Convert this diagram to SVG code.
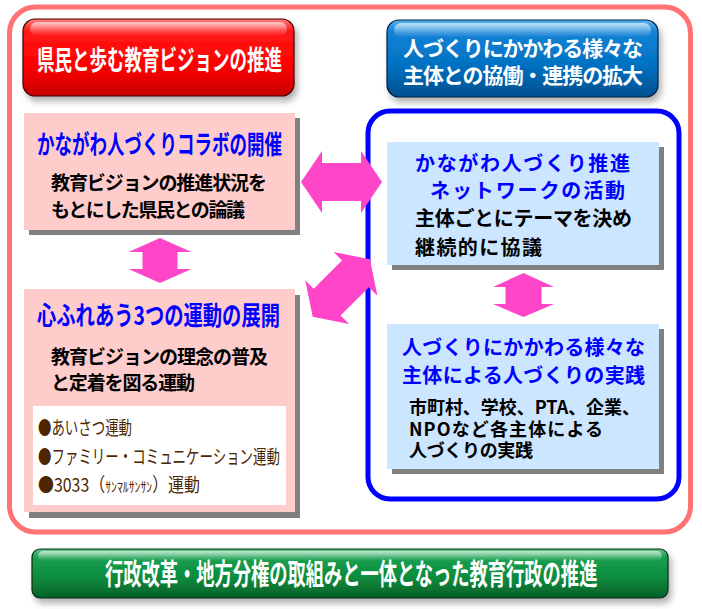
<svg xmlns="http://www.w3.org/2000/svg" width="702" height="609" viewBox="0 0 702 609">
<defs>
<style>
.jp{font-family:"Noto Sans CJK JP","Noto Sans",sans-serif;}
.b{font-weight:bold;}
.wt{fill:#FFFFFF;}
.bl{fill:#0000FF;}
.bk{fill:#000000;}
.br{fill:#4D2600;font-weight:normal;}
.pink{fill:#FFCCCC;}
.sky{fill:#CCE6FF;}
.shadow{fill:#808080;}
.arrow{fill:#FF46C8;}
</style>
<linearGradient id="gRed" x1="0" y1="0" x2="0" y2="1">
<stop offset="0" stop-color="#FF8080"/>
<stop offset="0.14" stop-color="#FF1A1A"/>
<stop offset="0.6" stop-color="#FF0000"/>
<stop offset="1" stop-color="#C40000"/>
</linearGradient>
<linearGradient id="gBlue" x1="0" y1="0" x2="0" y2="1">
<stop offset="0" stop-color="#5AB4F0"/>
<stop offset="0.14" stop-color="#1584D8"/>
<stop offset="0.6" stop-color="#0070C0"/>
<stop offset="1" stop-color="#00508E"/>
</linearGradient>
<linearGradient id="gGreen" x1="0" y1="0" x2="0" y2="1">
<stop offset="0" stop-color="#60C888"/>
<stop offset="0.16" stop-color="#18A050"/>
<stop offset="0.6" stop-color="#0A8A3C"/>
<stop offset="1" stop-color="#056028"/>
</linearGradient>
<linearGradient id="gGloss" x1="0" y1="0" x2="0" y2="1">
<stop offset="0" stop-color="#FFFFFF" stop-opacity="0.65"/>
<stop offset="1" stop-color="#FFFFFF" stop-opacity="0"/>
</linearGradient>
<filter id="soft" x="-10%" y="-20%" width="130%" height="170%">
<feGaussianBlur in="SourceAlpha" stdDeviation="3"/>
<feOffset dx="3" dy="5" result="b"/>
<feFlood flood-color="#000000" flood-opacity="0.3"/>
<feComposite in2="b" operator="in"/>
<feMerge><feMergeNode/><feMergeNode in="SourceGraphic"/></feMerge>
</filter>
</defs>
<rect width="702" height="609" fill="#FFFFFF"/>

<g id="frame-outer">
<rect x="9.5" y="7" width="681" height="525" rx="26" fill="none" stroke="#FF7373" stroke-width="5"/>
</g>

<g id="header-red">
<rect x="23" y="19" width="271" height="77" rx="12" fill="url(#gRed)" stroke="#400000" stroke-width="1.2" filter="url(#soft)"/>
<rect x="30" y="22" width="257" height="14" rx="7" fill="url(#gGloss)"/>
<text class="jp b wt" x="37" y="70" font-size="27" textLength="245" lengthAdjust="spacingAndGlyphs">県民と歩む教育ビジョンの推進</text>
</g>

<g id="header-blue">
<rect x="387" y="20" width="271" height="77" rx="12" fill="url(#gBlue)" stroke="#002040" stroke-width="1.2" filter="url(#soft)"/>
<rect x="394" y="23" width="257" height="14" rx="7" fill="url(#gGloss)"/>
<text class="jp b wt" x="403" y="56" font-size="21" textLength="240">人づくりにかかわる様々な</text>
<text class="jp b wt" x="403" y="83" font-size="21" textLength="240">主体との協働・連携の拡大</text>
</g>

<g id="box-collab">
<rect class="shadow" x="29" y="118" width="271" height="117"/>
<rect class="pink" x="24" y="113" width="271" height="117"/>
<text class="jp b bl" x="37" y="154" font-size="26" textLength="245" lengthAdjust="spacingAndGlyphs">かながわ人づくりコラボの開催</text>
<text class="jp b bk" x="51" y="190" font-size="19" textLength="216">教育ビジョンの推進状況を</text>
<text class="jp b bk" x="51" y="217" font-size="19" textLength="194">もとにした県民との論議</text>
</g>

<g id="box-movement">
<rect class="shadow" x="29" y="295" width="271" height="223"/>
<rect class="pink" x="24" y="289" width="271" height="223"/>
<text class="jp b bl" x="37" y="325" font-size="26" textLength="243" lengthAdjust="spacingAndGlyphs">心ふれあう3つの運動の展開</text>
<text class="jp b bk" x="51" y="364" font-size="19" textLength="217">教育ビジョンの理念の普及</text>
<text class="jp b bk" x="51" y="390" font-size="19" textLength="144">と定着を図る運動</text>
<rect x="33" y="406" width="253" height="99" fill="#FFFFFF"/>
<text class="jp br" x="38" y="435" font-size="19" textLength="94" lengthAdjust="spacingAndGlyphs">●あいさつ運動</text>
<text class="jp br" x="38" y="464" font-size="19" textLength="242" lengthAdjust="spacingAndGlyphs">●ファミリー・コミュニケーション運動</text>
<text class="jp br" x="38" y="492" font-size="19" textLength="162" lengthAdjust="spacingAndGlyphs">●3033（<tspan font-size="14">ｻﾝﾏﾙｻﾝｻﾝ</tspan>）運動</text>
</g>

<g id="frame-blue">
<rect x="368" y="111" width="311" height="388" rx="22" fill="none" stroke="#0000FF" stroke-width="5"/>
</g>

<g id="box-network">
<rect class="shadow" x="392" y="147" width="272" height="123"/>
<rect class="sky" x="387" y="142" width="272" height="123"/>
<text class="jp b bl" x="415" y="171" font-size="20" textLength="215">かながわ人づくり推進</text>
<text class="jp b bl" x="430" y="198" font-size="20" textLength="195">ネットワークの活動</text>
<text class="jp b bk" x="415" y="226" font-size="20" textLength="217">主体ごとにテーマを決め</text>
<text class="jp b bk" x="415" y="255" font-size="20" textLength="127">継続的に協議</text>
</g>

<g id="box-practice">
<rect class="shadow" x="392" y="329" width="272" height="145"/>
<rect class="sky" x="387" y="324" width="272" height="145"/>
<text class="jp b bl" x="402" y="355" font-size="20" textLength="243">人づくりにかかわる様々な</text>
<text class="jp b bl" x="402" y="383" font-size="20" textLength="243">主体による人づくりの実践</text>
<text class="jp b bk" x="409" y="414" font-size="18" textLength="231">市町村、学校、PTA、企業、</text>
<text class="jp b bk" x="409" y="436" font-size="18" textLength="194">NPOなど各主体による</text>
<text class="jp b bk" x="409" y="457" font-size="18" textLength="124">人づくりの実践</text>
</g>

<g id="footer-green">
<rect x="32" y="549" width="636" height="49" rx="8" fill="url(#gGreen)" stroke="#0A2A14" stroke-width="1.2" filter="url(#soft)"/>
<rect x="38" y="551" width="624" height="10" rx="5" fill="url(#gGloss)"/>
<text class="jp b wt" transform="translate(105,585) scale(0.63,1)" x="0" y="0" font-size="29">行政改革・地方分権の取組みと一体となった教育行政の推進</text>
</g>

<g id="connectors">
<polygon class="arrow" points="301,182 322,151 322,163 361,163 361,151 382,182 361,213 361,201 322,201 322,213"/>
<polygon class="arrow" transform="translate(341.3,288) rotate(-45)" points="-40.5,0 -20,-31 -20,-19 20,-19 20,-31 40.5,0 20,31 20,19 -20,19 -20,31"/>
<polygon class="arrow" points="160,238 191.5,252 177.5,252 177.5,269 191.5,269 160,283 128.5,269 142.5,269 142.5,252 128.5,252"/>
<polygon class="arrow" points="523.5,273 554,287 541.5,287 541.5,304 554,304 523.5,317 493,304 505.5,304 505.5,287 493,287"/>
</g>
</svg>
